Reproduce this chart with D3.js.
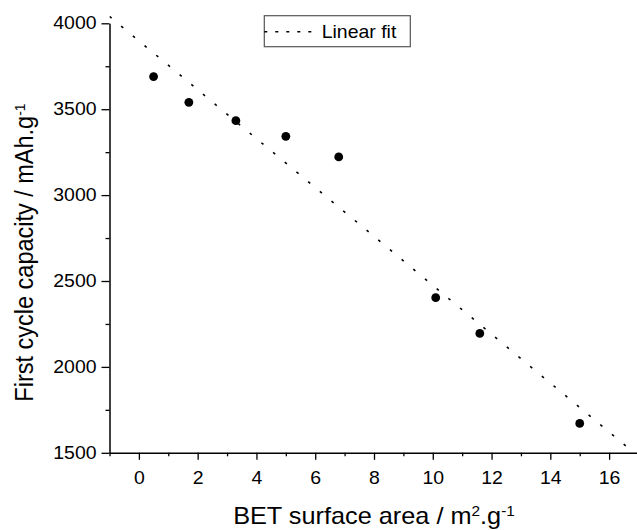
<!DOCTYPE html>
<html>
<head>
<meta charset="utf-8">
<script src="https://cdn.jsdelivr.net/npm/d3@7"></script>
<style>
  body { margin: 0; background: #fff; overflow: hidden; }
  svg { font-family: "Liberation Sans", Arial, sans-serif; display: block; }
</style>
</head>
<body>
<div id="chart"></div>
<script>
// data
const bet = [0.5, 1.7, 3.3, 5.0, 6.8, 10.1, 11.6, 15.0];
const capacity = [3690, 3540, 3433, 3342, 3222, 2403, 2195, 1671];
// linear fit, as drawn
const fitIntercept = 3898;
const fitSlope = -142.3;
const xTicks = [0, 2, 4, 6, 8, 10, 12, 14, 16];
const xMinor = [-1, 1, 3, 5, 7, 9, 11, 13, 15, 17];
const yTicks = [1500, 2000, 2500, 3000, 3500, 4000];
const yMinor = [1750, 2250, 2750, 3250, 3750];

const width = 637, height = 530;
const stretch = 1.1; // the text in the original is a bit wider than tall

const svg = d3.select("#chart").append("svg")
    .attr("width", width)
    .attr("height", height);

const x = d3.scaleLinear().domain([-1, 17]).range([109.5, 638.5]);
const y = d3.scaleLinear().domain([1500, 4000]).range([452.8, 23.3]);

svg.append("clipPath").attr("id", "plot")
  .append("rect")
    .attr("x", x(-1)).attr("y", y(4000) - 8)
    .attr("width", x(17) - x(-1)).attr("height", y(1500) - y(4000) + 8);

// --- fit line ---
const fitX = [-1, 17];
svg.append("path")
    .attr("clip-path", "url(#plot)")
    .attr("d", d3.line().x(d => x(d)).y(d => y(fitIntercept + fitSlope * d))(fitX))
    .attr("fill", "none")
    .attr("stroke", "#000")
    .attr("stroke-width", 1.6)
    .attr("stroke-dasharray", "2.7,12.5");

// --- points ---
svg.selectAll("circle")
    .data(bet.map((b, i) => ({ b, c: capacity[i] })))
    .enter()
    .append("circle")
    .attr("cx", d => x(d.b))
    .attr("cy", d => y(d.c))
    .attr("r", 4.4)
    .attr("fill", "#000");

// --- axes ---
svg.append("g")
    .attr("class", "xaxis")
    .attr("transform", `translate(0,${y(1500)})`)
    .call(d3.axisBottom(x).tickValues(xTicks).tickFormat(d3.format("d"))
        .tickSize(7).tickPadding(11.5).tickSizeOuter(0));
svg.append("g")
    .attr("transform", `translate(0,${y(1500)})`)
    .call(d3.axisBottom(x).tickValues(xMinor).tickSize(3.5).tickFormat("").tickSizeOuter(0))
    .select(".domain").remove();

svg.append("g")
    .attr("class", "yaxis")
    .attr("transform", `translate(${x(-1)},0)`)
    .call(d3.axisLeft(y).tickValues(yTicks).tickFormat(d3.format("d"))
        .tickSize(8).tickPadding(3.8).tickSizeOuter(0));
svg.append("g")
    .attr("transform", `translate(${x(-1)},0)`)
    .call(d3.axisLeft(y).tickValues(yMinor).tickSize(4).tickFormat("").tickSizeOuter(0))
    .select(".domain").remove();

svg.selectAll(".domain").attr("stroke-width", 1.5);
svg.selectAll(".tick line").attr("stroke-width", 1.3);
svg.selectAll(".tick text")
    .style("font-size", "17.7px")
    .attr("fill", "#000")
    .attr("transform", `scale(${stretch},1)`);

// --- axis titles ---
const xt = svg.append("text")
    .attr("transform", `translate(${(x(-1) + x(17)) / 2},524) scale(${stretch},1)`)
    .attr("text-anchor", "middle")
    .style("font-size", "23px");
xt.append("tspan").text("BET surface area / m");
xt.append("tspan").attr("baseline-shift", "super").style("font-size", "14px").text("2");
xt.append("tspan").text(".g");
xt.append("tspan").attr("baseline-shift", "super").style("font-size", "14px").text("-1");

const yt = svg.append("text")
    .attr("transform", `translate(33,252.5) scale(${stretch},1) rotate(-90)`)
    .attr("text-anchor", "middle")
    .style("font-size", "23.5px");
yt.append("tspan").text("First cycle capacity / mAh.g");
yt.append("tspan").attr("baseline-shift", "super").style("font-size", "14px").text("-1");

// --- legend ---
const lg = svg.append("g").attr("transform", "translate(264.3,15.7)");
lg.append("rect")
    .attr("width", 146).attr("height", 31)
    .attr("fill", "#fff").attr("stroke", "#555").attr("stroke-width", 1.2);
lg.append("line")
    .attr("x1", 0).attr("x2", 50).attr("y1", 16).attr("y2", 16)
    .attr("stroke", "#000").attr("stroke-width", 1.6)
    .attr("stroke-dasharray", "3,8");
lg.append("text")
    .attr("transform", `translate(57.4,22) scale(${stretch},1)`)
    .style("font-size", "17.7px")
    .text("Linear fit");
</script>
</body>
</html>
